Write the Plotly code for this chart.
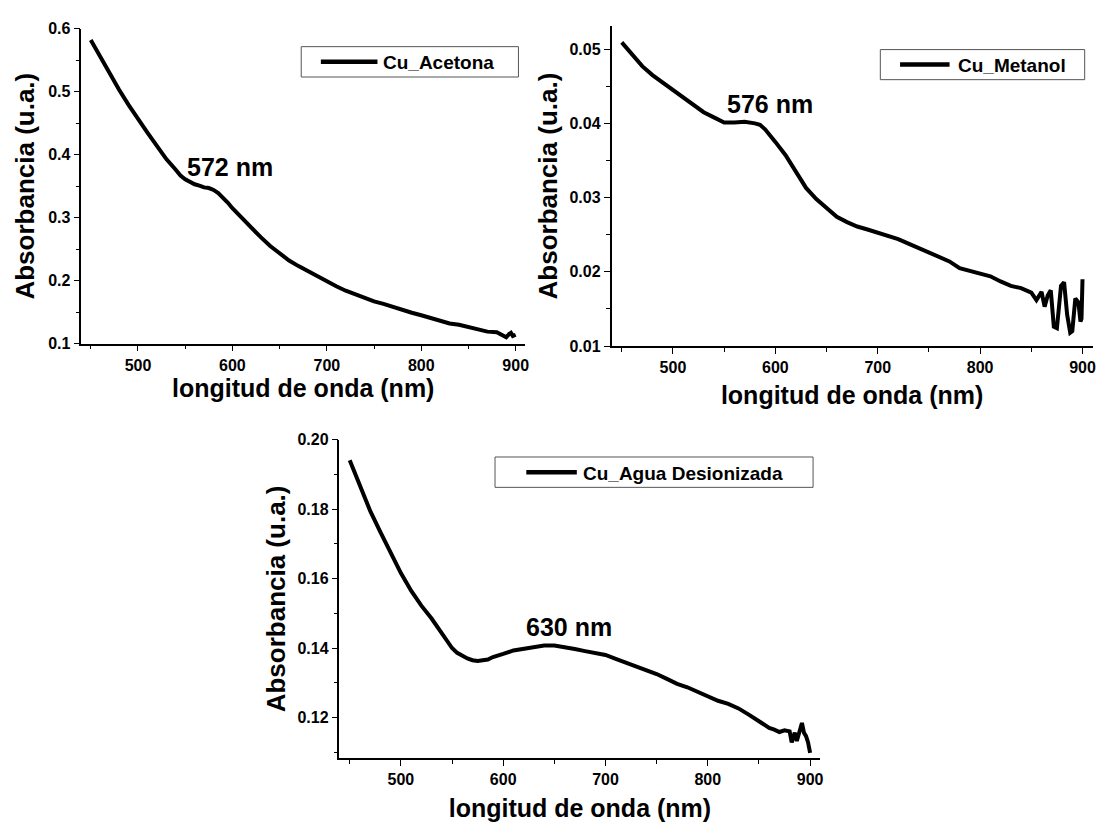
import plotly.graph_objects as go

# ---------------- data ----------------
acetona_nm = [450, 460, 470, 480, 490, 500, 510, 520, 530, 540, 545, 550, 555, 560, 565,
              570, 575, 580, 585, 590, 595, 600, 610, 620, 630, 640, 650, 660, 670, 680,
              690, 700, 710, 720, 730, 740, 750, 760, 770, 780, 790, 800, 810, 820, 830,
              840, 850, 860, 870, 880, 885, 890, 893, 895, 897, 900]
acetona_abs = [0.582, 0.555, 0.529, 0.503, 0.479, 0.456, 0.435, 0.414, 0.393, 0.376, 0.367,
               0.361, 0.357, 0.353, 0.351, 0.348, 0.347, 0.344, 0.339, 0.332, 0.324, 0.315,
               0.299, 0.283, 0.269, 0.255, 0.243, 0.232, 0.223, 0.215, 0.206, 0.198, 0.191,
               0.184, 0.178, 0.173, 0.167, 0.163, 0.158, 0.153, 0.149, 0.145, 0.141, 0.136,
               0.132, 0.130, 0.126, 0.122, 0.119, 0.118, 0.114, 0.110, 0.115, 0.117, 0.112,
               0.114]

metanol_nm = [450, 460, 470, 480, 490, 500, 510, 520, 530, 540, 550, 560, 570, 580, 585,
              590, 595, 600, 610, 620, 630, 640, 650, 660, 670, 680, 690, 700, 710, 720,
              730, 740, 750, 760, 770, 780, 790, 800, 810, 820, 830, 840, 850, 855, 860,
              863, 866, 869, 872, 875, 879, 882, 885, 888, 890, 893, 896, 898, 899, 900]
metanol_abs = [0.0509, 0.0493, 0.0477, 0.0465, 0.0455, 0.0445, 0.0435, 0.0424, 0.0415,
               0.0408, 0.0401, 0.0401, 0.0402, 0.0400, 0.0398, 0.0392, 0.0384, 0.0375,
               0.0357, 0.0335, 0.0313, 0.0298, 0.0286, 0.0274, 0.0267, 0.0261, 0.0257,
               0.0253, 0.0248, 0.0244, 0.0238, 0.0232, 0.0225, 0.0220, 0.0214, 0.0205,
               0.0201, 0.0198, 0.0194, 0.0187, 0.0181, 0.0178, 0.0172, 0.0162, 0.0173,
               0.0153, 0.0168, 0.0175, 0.0126, 0.0124, 0.0181, 0.0186, 0.0142, 0.0118,
               0.0120, 0.0164, 0.0159, 0.0133, 0.0137, 0.0190]

agua_nm = [450, 455, 460, 470, 480, 490, 500, 510, 520, 530, 540, 550, 555, 560, 565,
           570, 575, 580, 585, 590, 595, 600, 610, 620, 630, 640, 650, 660, 670, 680,
           690, 700, 710, 720, 730, 740, 750, 760, 770, 780, 790, 800, 810, 820, 830,
           840, 850, 860, 865, 870, 875, 880, 882, 885, 887, 890, 892, 894, 896, 898, 900]
agua_abs = [0.1941, 0.1903, 0.1870, 0.1795, 0.1734, 0.1673, 0.1616, 0.1565, 0.1522, 0.1485,
            0.1443, 0.1400, 0.1386, 0.1377, 0.1370, 0.1365, 0.1363, 0.1365, 0.1367, 0.1374,
            0.1380, 0.1383, 0.1393, 0.1398, 0.1403, 0.1407, 0.1407, 0.1403, 0.1397, 0.1391,
            0.1386, 0.1380, 0.1369, 0.1358, 0.1349, 0.1339, 0.1325, 0.1311, 0.1297, 0.1287,
            0.1273, 0.1259, 0.1248, 0.1239, 0.1226, 0.1208, 0.1189, 0.1170, 0.1165, 0.1158,
            0.1163, 0.1160, 0.1128, 0.1156, 0.1132, 0.1161, 0.1184, 0.1156, 0.1146, 0.1128,
            0.1098]

series_names = ["Cu_Acetona", "Cu_Metanol", "Cu_Agua Desionizada"]
peak_labels = ["572 nm", "576 nm", "630 nm"]
peak_x = [597.8, 595.2, 664.0]
peak_y = [0.380, 0.04254, 0.1461]

x_title = "longitud de onda (nm)"
y_title = "Absorbancia (u.a.)"
x_ticks = [500, 600, 700, 800, 900]
x_minor_ticks = [450, 550, 650, 750, 850]

# ---------------- figure ----------------
W, H = 1104, 823
OFF = 8  # the page body adds an 8px margin, compensate for it
FONT = "Liberation Sans, Arial, sans-serif"


def px_x(v):
    return (v - OFF) / W


def px_y(v):
    return 1 - (v - OFF) / H


fig = go.Figure()

xs = [acetona_nm, metanol_nm, agua_nm]
ys = [acetona_abs, metanol_abs, agua_abs]
for i in range(3):
    sfx = "" if i == 0 else str(i + 1)
    fig.add_trace(go.Scatter(
        x=xs[i], y=ys[i], mode="lines", name=series_names[i],
        line=dict(color="black", width=4),
        xaxis="x" + sfx, yaxis="y" + sfx, showlegend=False,
    ))

panels = [
    dict(xd=(81.6, 527), yd=(21, 342.5), yr=(0.1, 0.6), dt=0.1, mdt=0.05, fmt=".1f", so=7, yso=6),
    dict(xd=(613.7, 1096.7), yd=(18.3, 345), yr=(0.01, 0.0531), dt=0.01, mdt=0.005, fmt=".2f", so=12, yso=4),
    dict(xd=(340.7, 823.3), yd=(440.7, 765.7), yr=(0.1083, 0.20), dt=0.02, mdt=0.01, fmt=".2f", so=13, yso=4),
]

tickfont = dict(family=FONT, size=16, color="black", weight="bold")
xtitlefont = dict(family=FONT, size=25, color="black", weight="bold")
ytitlefont = dict(family=FONT, size=26, color="black", weight="bold")

for i, p in enumerate(panels):
    sfx = "" if i == 0 else str(i + 1)
    xa = dict(
        domain=[px_x(p["xd"][0]), px_x(p["xd"][1])],
        range=[440, 910], anchor="y" + sfx,
        tickmode="array", tickvals=x_ticks,
        ticks="outside", ticklen=6, tickwidth=1.2, tickcolor="black",
        minor=dict(tickmode="array", tickvals=x_minor_ticks,
                   ticks="outside", ticklen=4, tickwidth=1.2, tickcolor="black"),
        showline=True, linecolor="black", linewidth=1.5,
        showgrid=False, zeroline=False,
        tickfont=tickfont,
        title=dict(text=x_title, font=xtitlefont, standoff=p["so"]),
    )
    ya = dict(
        domain=[px_y(p["yd"][1]), px_y(p["yd"][0])],
        range=list(p["yr"]), anchor="x" + sfx,
        dtick=p["dt"], tick0=0, tickformat=p["fmt"],
        ticks="outside", ticklen=6, tickwidth=1.2, tickcolor="black",
        minor=dict(dtick=p["mdt"], tick0=0, ticks="outside", ticklen=4,
                   tickwidth=1.2, tickcolor="black"),
        showline=True, linecolor="black", linewidth=1.5,
        showgrid=False, zeroline=False,
        tickfont=tickfont,
        title=dict(text=y_title, font=ytitlefont, standoff=p["yso"]),
    )
    fig.update_layout(**{"xaxis" + sfx: xa, "yaxis" + sfx: ya})

# peak annotations
for i in range(3):
    sfx = "" if i == 0 else str(i + 1)
    fig.add_annotation(
        x=peak_x[i], y=peak_y[i], xref="x" + sfx, yref="y" + sfx,
        text=peak_labels[i], showarrow=False,
        font=dict(family=FONT, size=25, color="black", weight="bold"),
    )

# legend boxes (box left, box top, box right, box bottom, sample start, sample end, text start)
legend_geo = [
    (302.3, 39.3, 520.3, 70.3, 322.0, 378.8, 382.0),
    (883.5, 42.3, 1088.6, 73.0, 903.3, 953.0, 959.0),
    (496.8, 458.3, 816.0, 489.3, 528.2, 578.9, 583.5),
]
for i, (bl, bt, br, bb, s0, s1, t0) in enumerate(legend_geo):
    cy = (bt + bb) / 2
    fig.add_shape(type="rect", xref="paper", yref="paper",
                  x0=px_x(bl), x1=px_x(br), y0=px_y(bb), y1=px_y(bt),
                  line=dict(color="#555555", width=1), fillcolor="white", layer="above")
    fig.add_shape(type="line", xref="paper", yref="paper",
                  x0=px_x(s0), x1=px_x(s1), y0=px_y(cy), y1=px_y(cy),
                  line=dict(color="black", width=4.5), layer="above")
    fig.add_annotation(xref="paper", yref="paper", x=px_x(t0), y=px_y(cy + 1),
                       xanchor="left", yanchor="middle", showarrow=False,
                       text=series_names[i],
                       font=dict(family=FONT, size=19, color="black", weight="bold"))

fig.update_layout(
    width=W, height=H,
    margin=dict(l=0, r=0, t=0, b=0),
    paper_bgcolor="white", plot_bgcolor="white",
    showlegend=False,
)

fig.write_html("out.html")
